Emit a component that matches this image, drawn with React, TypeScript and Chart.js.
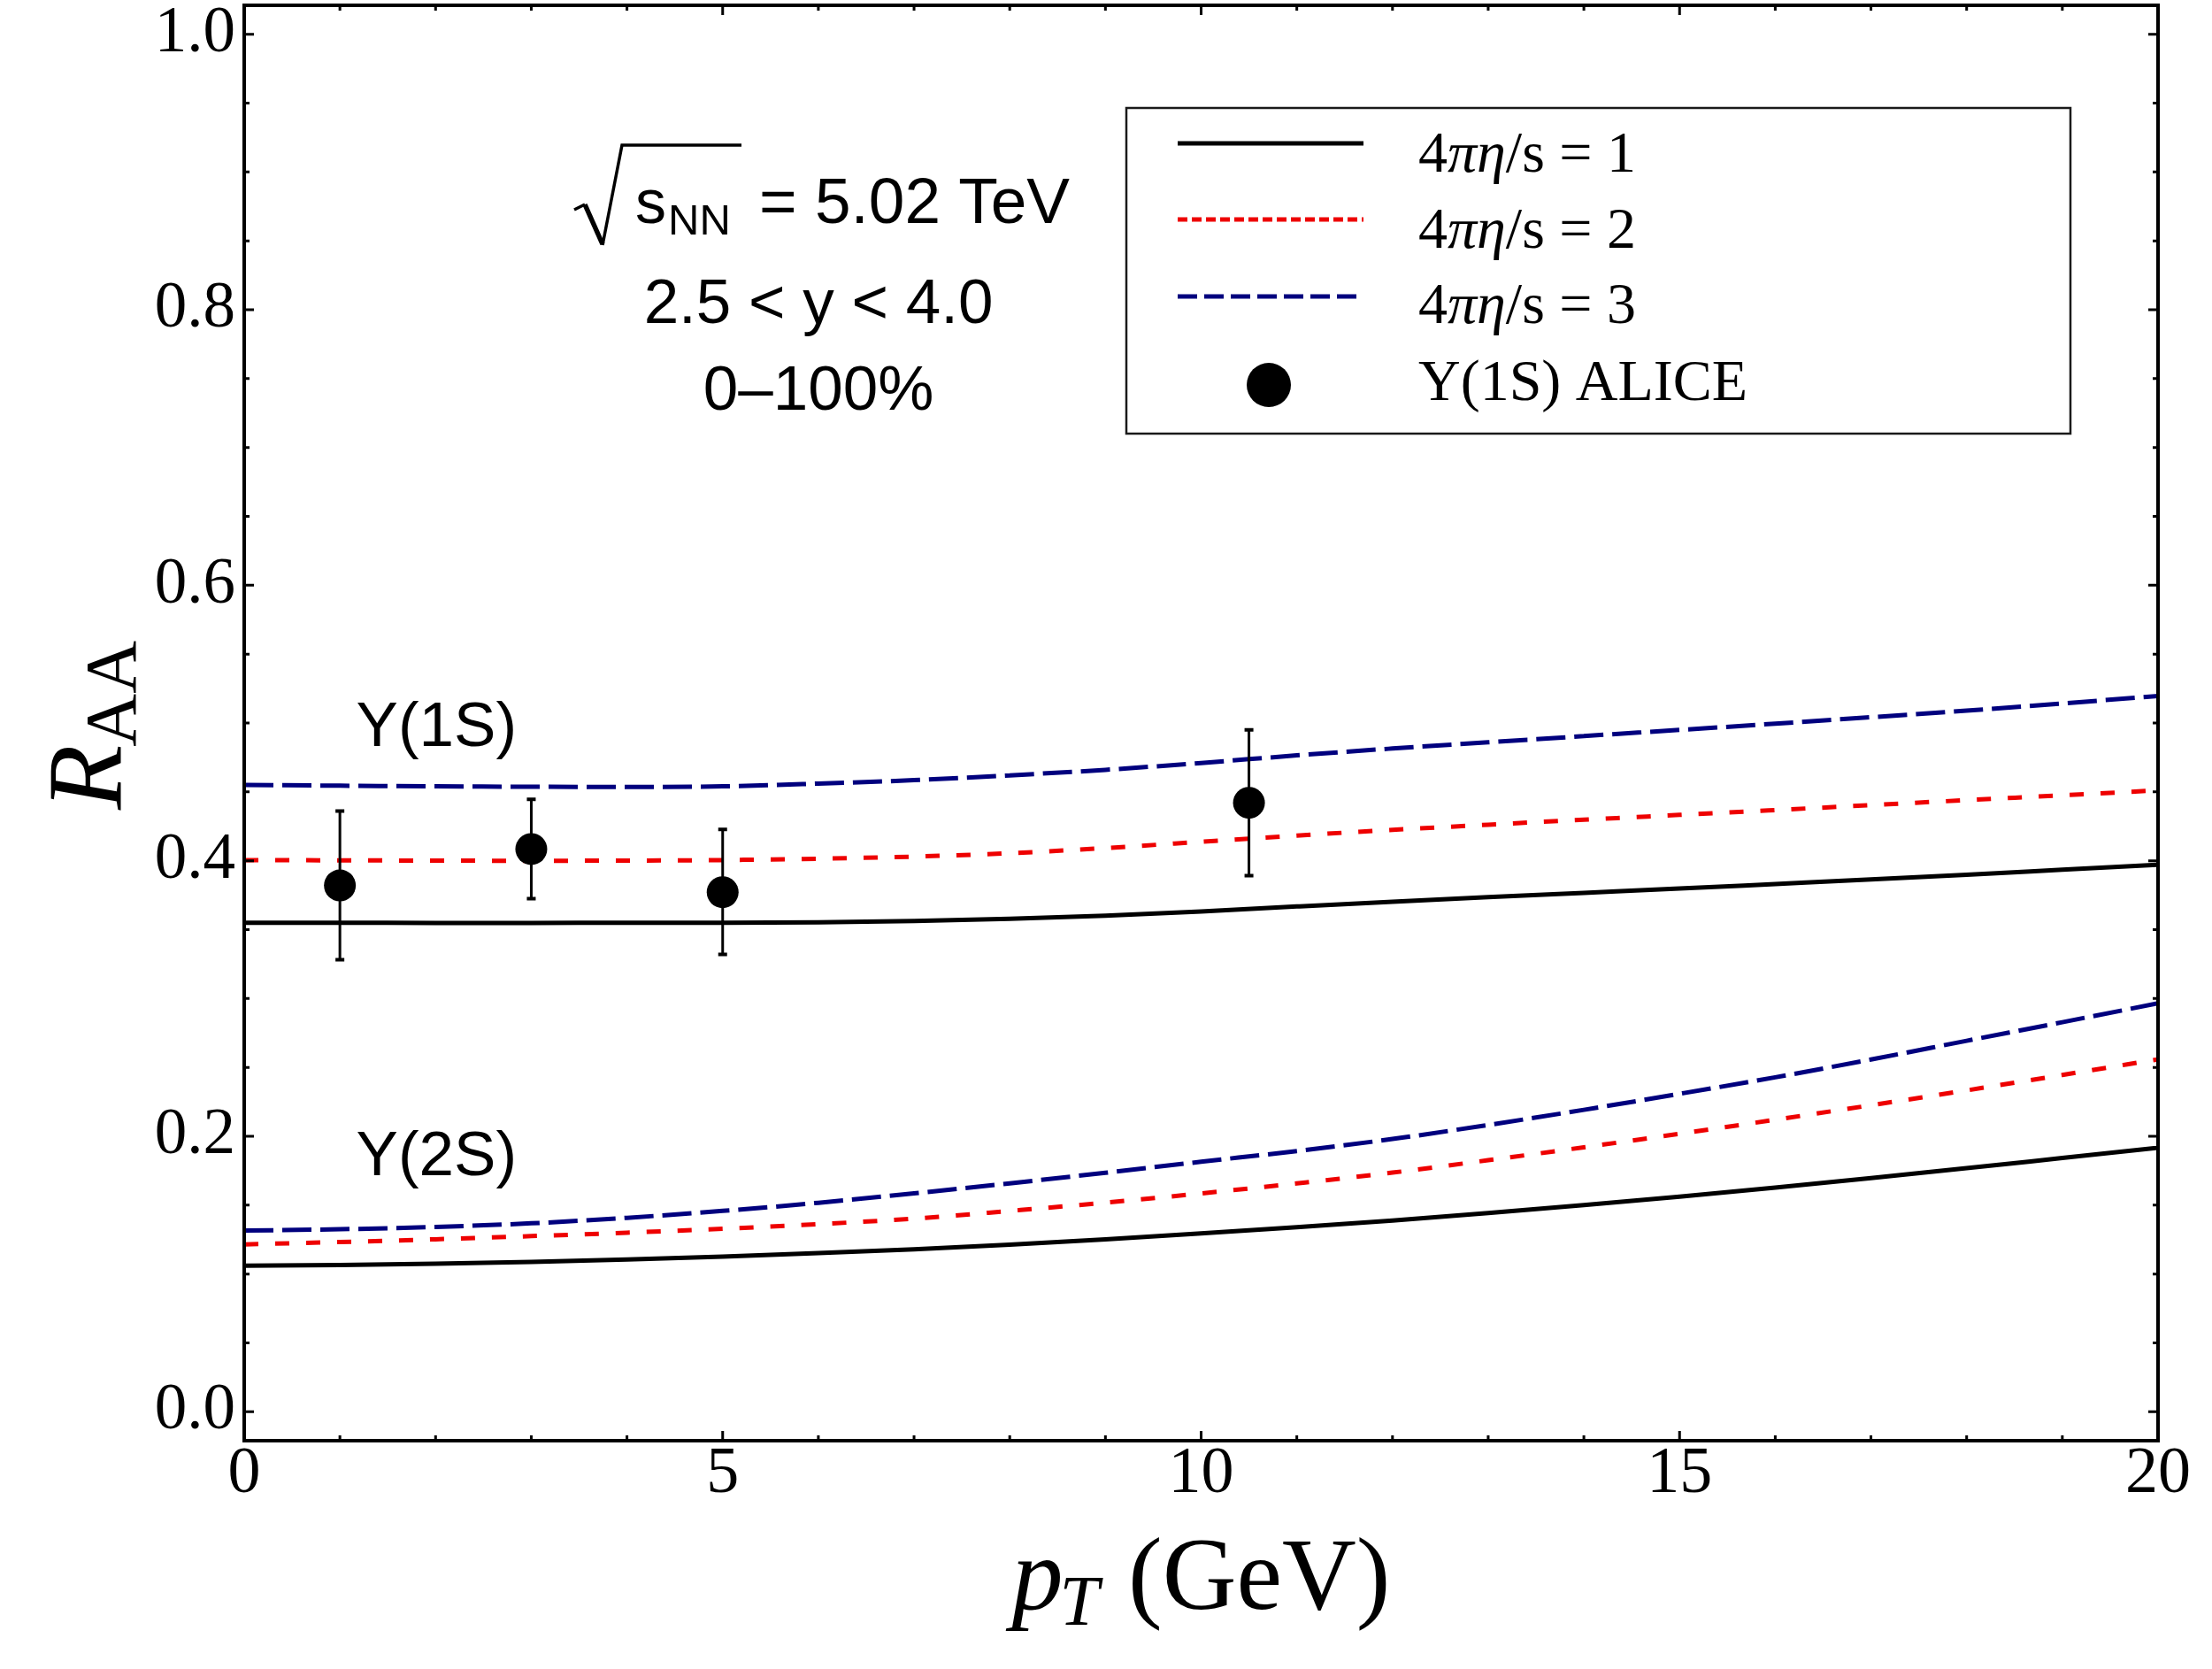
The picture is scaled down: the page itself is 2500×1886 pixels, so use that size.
import React, { useEffect, useRef } from "react";
import { Chart, registerables } from "chart.js";

Chart.register(...registerables);

// ---------------- data ----------------
const pT = [0, 1, 2, 3, 4, 5, 6, 7, 8, 9, 10, 11, 12, 13, 14, 15, 16, 17, 18, 19, 20];

// Upsilon(1S)
const r1sEta1 = [0.355, 0.355, 0.3548, 0.3548, 0.355, 0.355, 0.3553, 0.3562, 0.3578, 0.3601, 0.3632, 0.3668, 0.3703, 0.3736, 0.3767, 0.3798, 0.3831, 0.3864, 0.3899, 0.3935, 0.3971];
const r1sEta2 = [0.4005, 0.4003, 0.4001, 0.4, 0.4001, 0.4005, 0.4015, 0.403, 0.4055, 0.4092, 0.4138, 0.4183, 0.4224, 0.4262, 0.4298, 0.4333, 0.4368, 0.4404, 0.444, 0.4475, 0.4511];
const r1sEta3 = [0.455, 0.4545, 0.454, 0.4537, 0.4536, 0.454, 0.456, 0.4585, 0.462, 0.466, 0.471, 0.4765, 0.4815, 0.486, 0.4905, 0.495, 0.4995, 0.5042, 0.509, 0.5142, 0.5196];

// Upsilon(2S)
const r2sEta1 = [0.106, 0.1065, 0.1075, 0.1088, 0.1105, 0.1127, 0.1152, 0.118, 0.1213, 0.1252, 0.1295, 0.134, 0.1388, 0.1442, 0.15, 0.1562, 0.1628, 0.1696, 0.1768, 0.1842, 0.1916];
const r2sEta2 = [0.1215, 0.1232, 0.1252, 0.1275, 0.13, 0.1328, 0.1362, 0.1402, 0.1458, 0.1518, 0.1585, 0.1658, 0.1736, 0.1826, 0.192, 0.2018, 0.212, 0.2225, 0.2333, 0.2445, 0.2558];
const r2sEta3 = [0.1315, 0.1325, 0.1342, 0.1368, 0.1408, 0.1458, 0.1517, 0.1585, 0.1658, 0.1735, 0.1815, 0.1893, 0.198, 0.2082, 0.2192, 0.2308, 0.2428, 0.2557, 0.2693, 0.2828, 0.2965];

// ALICE Upsilon(1S) data
const alicePT = [1, 3, 5, 10.5];
const aliceRAA = [0.3821, 0.4085, 0.3772, 0.4421];
const aliceLow = [0.3282, 0.3725, 0.332, 0.3892];
const aliceHigh = [0.4361, 0.4446, 0.4228, 0.495];

// ticks
const xTickValues = [0, 5, 10, 15, 20];
const xTickLabels = ["0", "5", "10", "15", "20"];
const yTickValues = [0, 0.2, 0.4, 0.6, 0.8, 1.0];
const yTickLabels = ["0.0", "0.2", "0.4", "0.6", "0.8", "1.0"];
const xMinorStep = 1;
const yMinorStep = 0.05;

// legend / labels
const legendLabels = ["4πη/s = 1", "4πη/s = 2", "4πη/s = 3", "Υ(1S) ALICE"];
const stateLabels = ["Υ(1S)", "Υ(2S)"];
const stateLabelPos = [
  { x: 1.17, y: 0.4835 },
  { x: 1.17, y: 0.172 },
];

const BLACK = "#000000";
const RED = "#ee0000";
const BLUE = "#00007e";

const SERIF = '"Liberation Serif", "Times New Roman", serif';
const SANS = '"Liberation Sans", Arial, sans-serif';

const W = 2500;
const H = 1886;

function mkLine(label: string, ys: number[], color: string, dash: number[]) {
  return {
    label,
    data: pT.map((x, i) => ({ x, y: ys[i] })),
    showLine: true,
    borderColor: color,
    backgroundColor: color,
    borderWidth: 5,
    borderDash: dash,
    pointRadius: 0,
    pointHoverRadius: 0,
    cubicInterpolationMode: "monotone" as const,
    fill: false,
    order: 2,
  };
}

function drawMixed(ctx: CanvasRenderingContext2D, text: string, x: number, y: number, size: number) {
  // Greek letters in italics, the rest upright
  let cx = x;
  let run = "";
  let runItalic = false;
  const flush = () => {
    if (!run) return;
    ctx.font = `${runItalic ? "italic " : ""}${size}px ${SERIF}`;
    ctx.fillText(run, cx, y);
    cx += ctx.measureText(run).width;
    run = "";
  };
  for (const ch of text) {
    const it = ch === "π" || ch === "η";
    if (it !== runItalic) {
      flush();
      runItalic = it;
    }
    run += ch;
  }
  flush();
}

const overlayPlugin = {
  id: "overlay",
  afterDatasetsDraw(chart: any) {
    const { ctx, chartArea: ca } = chart;
    const xs = chart.scales.x;
    const ys = chart.scales.y;
    ctx.save();

    // error bars
    ctx.strokeStyle = BLACK;
    ctx.setLineDash([]);
    alicePT.forEach((p, i) => {
      const px = xs.getPixelForValue(p);
      const t = ys.getPixelForValue(aliceHigh[i]);
      const b = ys.getPixelForValue(aliceLow[i]);
      ctx.lineWidth = 3;
      ctx.beginPath();
      ctx.moveTo(px, t);
      ctx.lineTo(px, b);
      ctx.stroke();
      ctx.lineWidth = 4;
      ctx.beginPath();
      ctx.moveTo(px - 5, t);
      ctx.lineTo(px + 5, t);
      ctx.moveTo(px - 5, b);
      ctx.lineTo(px + 5, b);
      ctx.stroke();
    });

    // frame
    ctx.lineWidth = 4;
    ctx.strokeRect(ca.left, ca.top, ca.right - ca.left, ca.bottom - ca.top);

    // ticks (inward, all four sides)
    ctx.lineWidth = 3;
    ctx.beginPath();
    for (let k = 0; k <= 20; k++) {
      const v = xs.min + k * xMinorStep;
      if (v > xs.max + 1e-9) break;
      const px = xs.getPixelForValue(v);
      const major = xTickValues.some((t) => Math.abs(t - v) < 1e-9);
      const len = major ? 11 : 6;
      ctx.moveTo(px, ca.bottom);
      ctx.lineTo(px, ca.bottom - len);
      ctx.moveTo(px, ca.top);
      ctx.lineTo(px, ca.top + len);
    }
    for (let k = 0; k <= 20; k++) {
      const v = k * yMinorStep;
      const py = ys.getPixelForValue(v);
      const major = yTickValues.some((t) => Math.abs(t - v) < 1e-9);
      const len = major ? 11 : 6;
      ctx.moveTo(ca.left, py);
      ctx.lineTo(ca.left + len, py);
      ctx.moveTo(ca.right, py);
      ctx.lineTo(ca.right - len, py);
    }
    ctx.stroke();

    ctx.fillStyle = BLACK;
    ctx.textAlign = "left";
    ctx.textBaseline = "alphabetic";

    // x axis title: p_T (GeV)
    {
      const big = 116;
      const sub = 80;
      ctx.font = `italic ${big}px ${SERIF}`;
      const wp = ctx.measureText("p").width;
      ctx.font = `italic ${sub}px ${SERIF}`;
      const wt = ctx.measureText("T").width;
      ctx.font = `${big}px ${SERIF}`;
      const wr = ctx.measureText(" (GeV)").width;
      const total = wp + wt + wr;
      const cx = (ca.left + ca.right) / 2;
      let x0 = cx - total / 2;
      const base = 1818;
      ctx.font = `italic ${big}px ${SERIF}`;
      ctx.fillText("p", x0, base);
      x0 += wp;
      ctx.font = `italic ${sub}px ${SERIF}`;
      ctx.fillText("T", x0 - 4, base + 18);
      x0 += wt;
      ctx.font = `${big}px ${SERIF}`;
      ctx.fillText(" (GeV)", x0, base);
    }

    // y axis title: R_AA (rotated)
    {
      ctx.save();
      ctx.translate(137, 915);
      ctx.rotate(-Math.PI / 2);
      ctx.font = `italic 120px ${SERIF}`;
      ctx.fillText("R", 0, 0);
      const wr = ctx.measureText("R").width;
      ctx.font = `83px ${SERIF}`;
      ctx.fillText("AA", wr - 2, 16);
      ctx.restore();
    }

    // state labels
    ctx.font = `71px ${SANS}`;
    stateLabels.forEach((s, i) => {
      const px = xs.getPixelForValue(stateLabelPos[i].x);
      const py = ys.getPixelForValue(stateLabelPos[i].y);
      ctx.fillText(s, px, py);
    });

    // sqrt(s_NN) = 5.02 TeV annotation
    {
      ctx.lineJoin = "miter";
      ctx.lineWidth = 3.5;
      ctx.beginPath();
      ctx.moveTo(649, 237);
      ctx.lineTo(661, 231);
      ctx.stroke();
      ctx.lineWidth = 5.5;
      ctx.beginPath();
      ctx.moveTo(661, 231);
      ctx.lineTo(681, 276);
      ctx.stroke();
      ctx.lineWidth = 3.5;
      ctx.beginPath();
      ctx.moveTo(681, 277);
      ctx.lineTo(703, 164);
      ctx.lineTo(838, 164);
      ctx.stroke();
      ctx.font = `70px ${SANS}`;
      ctx.fillText("s", 718, 252);
      ctx.font = `49px ${SANS}`;
      ctx.fillText("NN", 755, 265);
      ctx.font = `73px ${SANS}`;
      ctx.fillText("= 5.02 TeV", 858, 252);
      ctx.textAlign = "center";
      ctx.font = `71px ${SANS}`;
      ctx.fillText("2.5 < y < 4.0", 925, 365);
      ctx.fillText("0\u2013100%", 925, 463);
      ctx.textAlign = "left";
    }

    // legend
    {
      const bx = 1273, by = 122, bw = 1067, bh = 368;
      ctx.fillStyle = "#ffffff";
      ctx.fillRect(bx, by, bw, bh);
      ctx.strokeStyle = "#1a1a1a";
      ctx.lineWidth = 2.5;
      ctx.strokeRect(bx, by, bw, bh);

      const lx0 = 1331, lx1 = 1541;
      const lineYs = [162, 248, 335];
      const styles = [
        { c: BLACK, d: [] as number[] },
        { c: RED, d: [11, 5] },
        { c: BLUE, d: [22, 8] },
      ];
      lineYs.forEach((ly, i) => {
        ctx.strokeStyle = styles[i].c;
        ctx.lineWidth = 5;
        ctx.setLineDash(styles[i].d);
        ctx.beginPath();
        ctx.moveTo(lx0, ly);
        ctx.lineTo(lx1, ly);
        ctx.stroke();
      });
      ctx.setLineDash([]);
      ctx.fillStyle = BLACK;
      ctx.beginPath();
      ctx.arc(1434, 435, 25, 0, Math.PI * 2);
      ctx.fill();

      const textBases = [194, 280, 365, 452];
      legendLabels.forEach((t, i) => {
        drawMixed(ctx, t, 1603, textBases[i], 66);
      });
    }

    ctx.restore();
  },
};

export default function App() {
  const ref = useRef<HTMLCanvasElement | null>(null);

  useEffect(() => {
    if (!ref.current) return;
    const chart = new Chart(ref.current, {
      type: "scatter",
      data: {
        datasets: [
          mkLine("4πη/s = 3 (1S)", r1sEta3, BLUE, [33, 10]),
          mkLine("4πη/s = 2 (1S)", r1sEta2, RED, [16, 19]),
          mkLine("4πη/s = 1 (1S)", r1sEta1, BLACK, []),
          mkLine("4πη/s = 3 (2S)", r2sEta3, BLUE, [33, 10]),
          mkLine("4πη/s = 2 (2S)", r2sEta2, RED, [16, 19]),
          mkLine("4πη/s = 1 (2S)", r2sEta1, BLACK, []),
          {
            label: "Υ(1S) ALICE",
            data: alicePT.map((x, i) => ({ x, y: aliceRAA[i] })),
            showLine: false,
            pointRadius: 18,
            pointHoverRadius: 18,
            pointBackgroundColor: BLACK,
            pointBorderColor: BLACK,
            pointBorderWidth: 0,
            order: 1,
          } as any,
        ],
      },
      options: {
        responsive: false,
        maintainAspectRatio: false,
        animation: false,
        devicePixelRatio: 1,
        events: [],
        layout: { autoPadding: false, padding: { left: 0, right: 61, top: 6, bottom: 0 } },
        plugins: {
          legend: { display: false },
          tooltip: { enabled: false },
        },
        scales: {
          x: {
            type: "linear",
            min: 0,
            max: 20,
            bounds: "data",
            grid: { display: false, drawTicks: false },
            border: { display: false },
            afterBuildTicks: (s: any) => {
              s.ticks = xTickValues.map((v) => ({ value: v }));
            },
            afterFit: (s: any) => {
              s.height = H - 1628;
              s.paddingLeft = 0;
              s.paddingRight = 0;
              s.paddingTop = 0;
              s.paddingBottom = 0;
            },
            ticks: {
              autoSkip: false,
              maxRotation: 0,
              minRotation: 0,
              padding: 2,
              color: BLACK,
              font: { family: SERIF, size: 74, lineHeight: 1 },
              callback: (_v: any, i: number) => xTickLabels[i],
            },
          },
          y: {
            type: "linear",
            min: -0.021,
            max: 1.021,
            bounds: "data",
            grid: { display: false, drawTicks: false },
            border: { display: false },
            afterBuildTicks: (s: any) => {
              s.ticks = yTickValues.map((v) => ({ value: v }));
            },
            afterFit: (s: any) => {
              s.width = 276;
              s.paddingLeft = 0;
              s.paddingRight = 0;
              s.paddingTop = 0;
              s.paddingBottom = 0;
            },
            ticks: {
              autoSkip: false,
              padding: 10,
              color: BLACK,
              font: { family: SERIF, size: 73, lineHeight: 1 },
              callback: (_v: any, i: number) => yTickLabels[i],
            },
          },
        },
      } as any,
      plugins: [overlayPlugin],
    });
    return () => chart.destroy();
  }, []);

  return (
    <div style={{ position: "absolute", left: 0, top: 0, width: W, height: H, background: "#fff" }}>
      <canvas ref={ref} width={W} height={H} style={{ display: "block", width: W, height: H }} />
    </div>
  );
}
